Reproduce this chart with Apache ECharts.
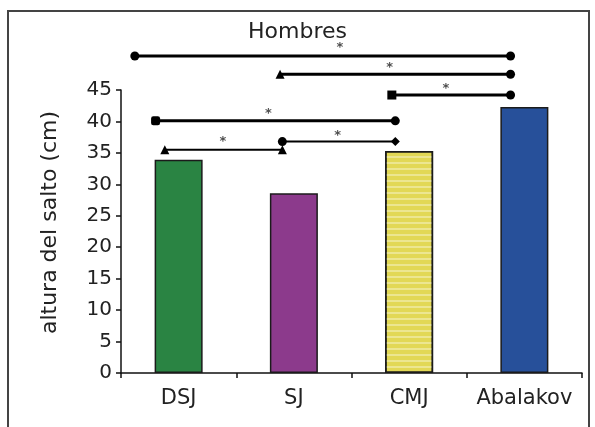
<!DOCTYPE html>
<html>
<head>
<meta charset="utf-8">
<script src="https://cdn.jsdelivr.net/npm/echarts@6/dist/echarts.min.js"></script>
<style>
html,body{margin:0;padding:0;background:#fff;}
#c{width:595px;height:427px;}
</style>
</head>
<body>
<div id="c"></div>
<script>
// ---- data ----
const categories = ['DSJ', 'SJ', 'CMJ', 'Abalakov'];
const jumpHeight = [33.9, 28.6, 35.3, 42.3];
const yAxisName = 'altura del salto (cm)';
const chartTitle = 'Hombres';
// significance brackets (category-index units, value units)
const sigFrom  = [-0.38, 0.88, 1.85, -0.20, -0.12, 0.90];
const sigTo    = [ 2.88, 2.88, 2.88,  1.88,  0.90, 1.88];
const sigLevel = [ 50.4, 47.5, 44.2,  40.1,  35.5, 36.8];
const starX    = [ 1.40, 1.83, 2.32,  0.78,  0.385, 1.38];
const starY    = [ 51.7, 48.6, 45.2,  41.3,  36.8, 37.7];
const starText = ['*', '*', '*', '*', '*', '*'];

// ---- styles ----
const barColors = ['#2a8443', '#8c3a8c', '#e2d855', '#27509a'];
const leftSym  = ['circle', 'triangle', 'rect', 'roundRect', 'triangle', 'circle'];
const rightSym = ['circle', 'circle', 'circle', 'circle', 'triangle', 'diamond'];
const lineW    = [3, 3, 3, 3, 2, 2];
const FONT = 'DejaVu Sans';

const chart = echarts.init(document.getElementById('c'), null, {renderer: 'canvas'});

const bracketSeries = sigFrom.map((f, i) => ({
  type: 'line',
  xAxisIndex: 1,
  yAxisIndex: 0,
  clip: false,
  silent: true,
  z: 5,
  symbolSize: 9,
  lineStyle: {color: '#000', width: lineW[i]},
  itemStyle: {color: '#000'},
  data: [
    {value: [f, sigLevel[i]], symbol: leftSym[i]},
    {value: [sigTo[i], sigLevel[i]], symbol: rightSym[i]}
  ],
  animation: false
}));

const option = {
  animation: false,
  backgroundColor: '#fff',
  title: {
    text: chartTitle,
    left: 'center',
    top: 16,
    textStyle: {fontFamily: FONT, fontSize: 22, fontWeight: 'normal', color: '#222'}
  },
  graphic: [{
    type: 'rect',
    shape: {x: 8, y: 11, width: 581, height: 440},
    style: {fill: 'none', stroke: '#444', lineWidth: 2},
    silent: true,
    z: 100
  }],
  grid: {left: 121, right: 13, top: 90, bottom: 54, containLabel: false},
  xAxis: [{
    type: 'category',
    data: categories,
    axisLine: {onZero: false, lineStyle: {color: '#111', width: 1.5}},
    axisTick: {show: true, alignWithLabel: false, length: 5, lineStyle: {color: '#111', width: 1.5}},
    axisLabel: {interval: 0, fontFamily: FONT, fontSize: 21, color: '#222', margin: 15}
  }, {
    type: 'value',
    min: -0.5,
    max: 3.5,
    show: false
  }],
  yAxis: [{
    type: 'value',
    min: 0,
    max: 45,
    interval: 5,
    name: yAxisName,
    nameLocation: 'middle',
    nameGap: 60,
    nameTextStyle: {fontFamily: FONT, fontSize: 22, color: '#222', padding: [0, 0, 0, 18]},
    axisLine: {show: true, onZero: false, lineStyle: {color: '#111', width: 1.5}},
    axisTick: {show: true, length: 5, lineStyle: {color: '#111', width: 1.5}},
    axisLabel: {fontFamily: FONT, fontSize: 20, color: '#222', margin: 9},
    splitLine: {show: false}
  }],
  series: [{
    type: 'bar',
    xAxisIndex: 0,
    yAxisIndex: 0,
    barWidth: 48,
    data: jumpHeight.map((v, i) => ({
      value: v,
      itemStyle: Object.assign({color: barColors[i], borderColor: '#1b1b1b', borderWidth: 1.5},
        i === 2 ? {decal: {symbol: 'rect', symbolSize: 1, dashArrayX: [1, 0], dashArrayY: [2, 4], rotation: 0, color: 'rgba(255,255,255,0.35)'}} : {})
    }))
  }].concat(bracketSeries).concat([{
    type: 'scatter',
    xAxisIndex: 1,
    yAxisIndex: 0,
    clip: false,
    symbolSize: 0,
    silent: true,
    z: 6,
    data: starX.map((x, i) => ({value: [x, starY[i]], name: starText[i]})),
    label: {
      show: true,
      position: 'inside',
      formatter: p => p.name,
      fontFamily: FONT,
      fontSize: 13,
      fontWeight: 'bold',
      color: '#222'
    }
  }])
};
chart.setOption(option);
</script>
</body>
</html>
